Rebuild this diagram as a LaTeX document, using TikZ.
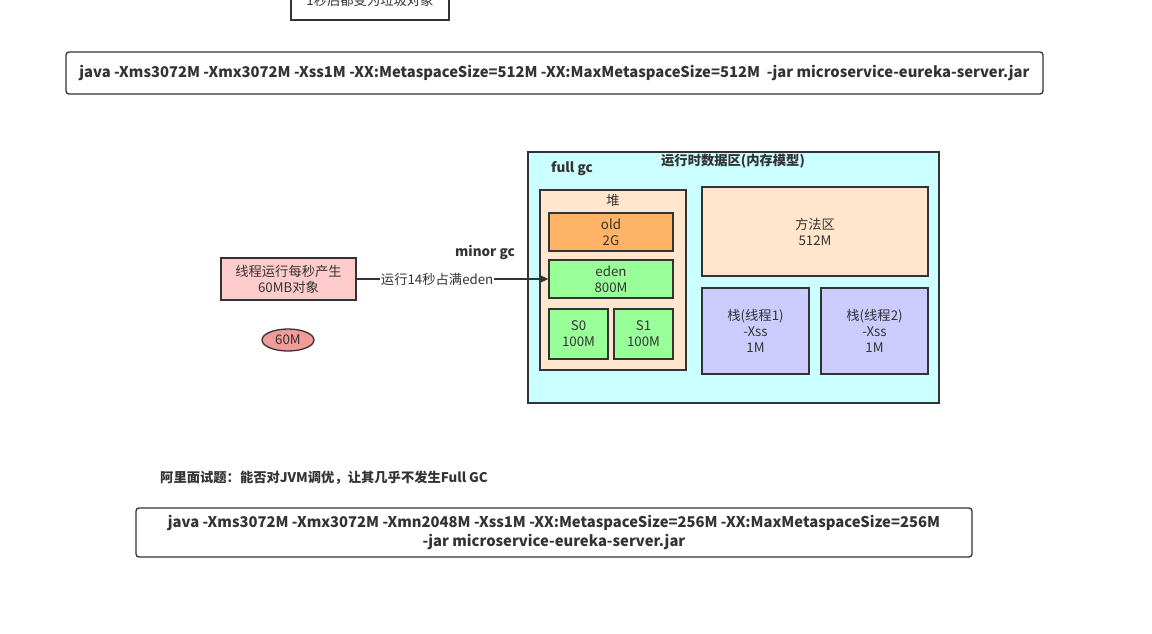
\documentclass[tikz,border=0pt]{standalone}
\usepackage{fontspec}
\setmainfont{Noto Sans CJK SC}
\usetikzlibrary{arrows.meta, positioning, shapes.geometric}
\definecolor{inkgray}{HTML}{333333}
\definecolor{areacyan}{HTML}{CCFFFF}
\definecolor{heappeach}{HTML}{FFE6CC}
\definecolor{oldorange}{HTML}{FFB366}
\definecolor{genegreen}{HTML}{99FF99}
\definecolor{stackblue}{HTML}{CCCCFF}
\definecolor{threadpink}{HTML}{FFCCCC}
\definecolor{objred}{HTML}{F19C99}

\begin{document}
\begin{tikzpicture}[x=1pt,y=-1pt,
  box/.style={draw=inkgray, line width=1.3pt, text=inkgray, align=center,
    inner sep=0pt, font=\fontsize{13.3}{16}\selectfont},
  cmdbox/.style={box, rounded corners=3pt, fill=white,
    font=\bfseries\fontsize{14.8}{19}\selectfont},
  tag/.style={text=inkgray, inner sep=0pt, font=\bfseries\fontsize{13.5}{15}\selectfont}]
\useasboundingbox (0,0) rectangle (1152,633);
\clip (0,0) rectangle (1152,633);
%---------------------------------------------------
\node[box, minimum width=158, minimum height=40] (garbage) at (370,0) {\raisebox{-6pt}{1秒后都变为垃圾对象}};
\node[cmdbox, minimum width=977, minimum height=42] (cmdold) at (554.5,73)
  {java -Xms3072M -Xmx3072M -Xss1M -XX:MetaspaceSize=512M -XX:MaxMetaspaceSize=512M \ -jar microservice-eureka-server.jar};
%---------------------------------------------------
\node[box, fill=areacyan, minimum width=411, minimum height=251] (runtime) at (733.5,277.5) {};
\node[tag, font=\bfseries\fontsize{13.3}{15}\selectfont] (rtitle) at (733,161) {运行时数据区(内存模型)};
\node[tag] (fullgc) at (572,169) {full gc};
\node[box, fill=heappeach, minimum width=146, minimum height=180] (heap) at (613,280) {};
\node[text=inkgray, font=\fontsize{13.3}{16}\selectfont] (heaplbl) at (613,200) {堆};
\node[box, fill=oldorange, minimum width=124, minimum height=38] (old) at (611,232) {old\\2G};
\node[box, fill=genegreen, minimum width=124, minimum height=38] (eden) at (611,279) {eden\\800M};
\node[box, fill=genegreen, minimum width=59, minimum height=50] (s0) at (578.5,334) {S0\\100M};
\node[box, fill=genegreen, minimum width=59, minimum height=50] (s1) at (643.5,334) {S1\\100M};
\node[box, fill=heappeach, minimum width=226, minimum height=89] (method) at (815,231.5) {方法区\\512M};
\node[box, fill=stackblue, minimum width=107, minimum height=86] (stack1) at (755.5,331) {栈(线程1)\\-Xss\\1M};
\node[box, fill=stackblue, minimum width=107, minimum height=86] (stack2) at (874.5,331) {栈(线程2)\\-Xss\\1M};
%---------------------------------------------------
\node[box, fill=threadpink, minimum width=135, minimum height=42] (thread) at (288.5,279) {线程运行每秒产生\\60MB对象};
\node[box, ellipse, fill=objred, minimum width=52, minimum height=22] (obj) at (288,340) {60M};
\draw[inkgray, line width=1.3pt, -{Triangle[length=9pt,width=8pt]}] (thread.east) -- (eden.west)
  node[pos=0.42, fill=white, text=inkgray, inner sep=1pt, font=\fontsize{13.3}{16}\selectfont] (fill14) {运行14秒占满eden};
\node[tag] (minorgc) at (485,252) {minor gc};
%---------------------------------------------------
\node[tag, anchor=west, font=\bfseries\fontsize{13.3}{15}\selectfont] (question) at (160,478) {阿里面试题：能否对JVM调优，让其几乎不发生Full GC};
\node[cmdbox, minimum width=836, minimum height=49] (cmdnew) at (554,532.5)
  {java -Xms3072M -Xmx3072M -Xmn2048M -Xss1M -XX:MetaspaceSize=256M -XX:MaxMetaspaceSize=256M\\-jar microservice-eureka-server.jar};
\end{tikzpicture}
\end{document}
